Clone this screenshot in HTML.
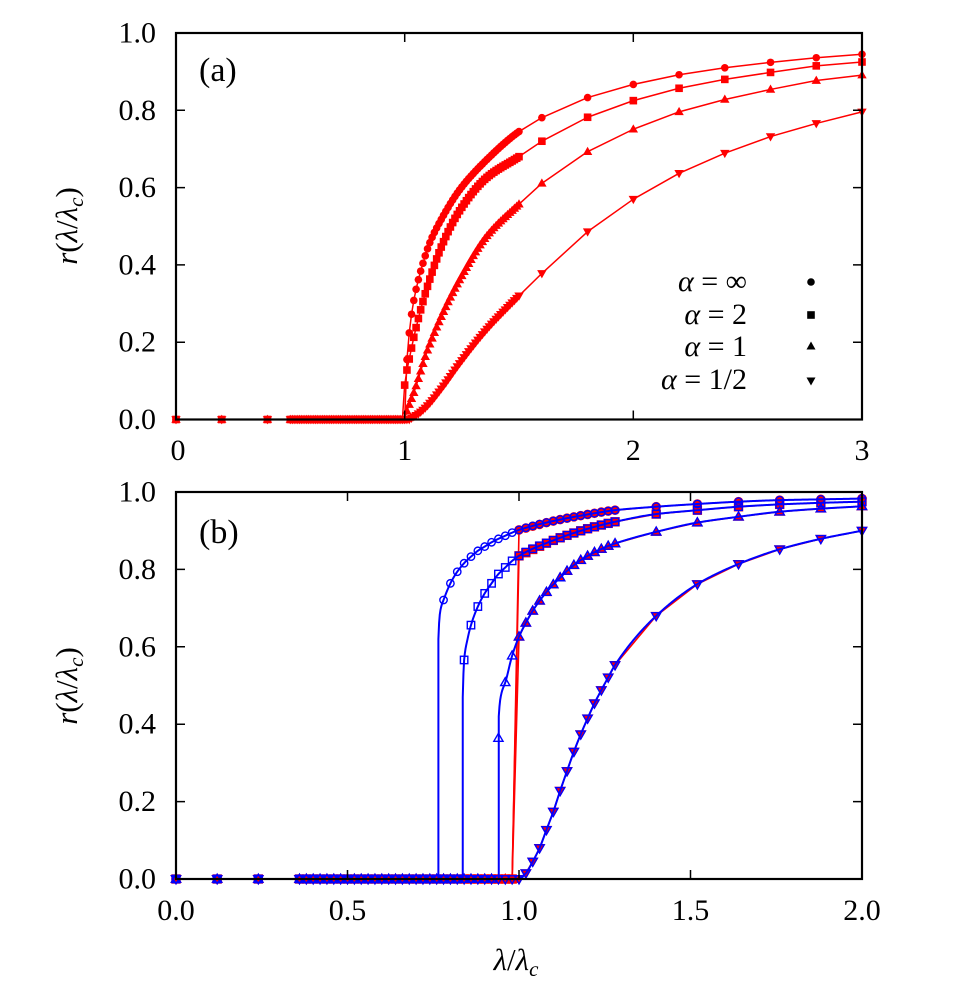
<!DOCTYPE html>
<html><head><meta charset="utf-8">
<style>
html,body{margin:0;padding:0;background:#fff;}
svg{display:block;}
svg text{font-family:"Liberation Serif","DejaVu Serif",serif;fill:#000;}
</style></head>
<body>
<svg width="978" height="998" viewBox="0 0 978 998" xmlns="http://www.w3.org/2000/svg" font-family="'Liberation Serif', 'DejaVu Serif', serif">
<rect width="978" height="998" fill="#fff"/>
<g id="data"></g>
<g fill="none" stroke="#000" stroke-width="1.5">
  <rect x="176" y="33" width="686" height="386.5" stroke-width="2.2"/>
  <path d="M404.7 419.5V410.5M633.3 419.5V410.5M404.7 33V42M633.3 33V42
           M176 342.2H185M176 264.9H185M176 187.6H185M176 110.3H185
           M862 342.2H853M862 264.9H853M862 187.6H853M862 110.3H853"/>
  <rect x="176" y="492" width="686" height="387" stroke-width="2.2"/>
  <path d="M347.5 879V870M519 879V870M690.5 879V870M347.5 492V501M519 492V501M690.5 492V501
           M176 801.6H185M176 724.2H185M176 646.8H185M176 569.4H185
           M862 801.6H853M862 724.2H853M862 646.8H853M862 569.4H853"/>
</g>
<g font-size="30" text-anchor="end" font-family="'Liberation Serif', serif">
  <text x="156" y="429">0.0</text>
  <text x="156" y="351.7">0.2</text>
  <text x="156" y="274.4">0.4</text>
  <text x="156" y="197.1">0.6</text>
  <text x="156" y="119.8">0.8</text>
  <text x="156" y="42.5">1.0</text>
</g>
<g font-size="30" text-anchor="middle" font-family="'Liberation Serif', serif">
  <text x="178" y="460">0</text>
  <text x="404.7" y="460">1</text>
  <text x="633.3" y="460">2</text>
  <text x="862" y="460">3</text>
</g>
<g font-size="30" text-anchor="end" font-family="'Liberation Serif', serif">
  <text x="156" y="888.5">0.0</text>
  <text x="156" y="811.1">0.2</text>
  <text x="156" y="733.7">0.4</text>
  <text x="156" y="656.3">0.6</text>
  <text x="156" y="578.9">0.8</text>
  <text x="156" y="501.5">1.0</text>
</g>
<g font-size="30" text-anchor="middle" font-family="'Liberation Serif', serif">
  <text x="176" y="920">0.0</text>
  <text x="347.5" y="920">0.5</text>
  <text x="519" y="920">1.0</text>
  <text x="690.5" y="920">1.5</text>
  <text x="862" y="920">2.0</text>
</g>
<g font-family="'Liberation Serif', serif">
<text transform="translate(77,226) rotate(-90)" font-size="31" text-anchor="middle"><tspan font-style="italic">r</tspan>(<tspan font-style="italic">λ</tspan>/<tspan font-style="italic">λ</tspan><tspan font-style="italic" font-size="21" dy="6">c</tspan><tspan dy="-6">)</tspan></text>
<text transform="translate(77,686) rotate(-90)" font-size="31" text-anchor="middle"><tspan font-style="italic">r</tspan>(<tspan font-style="italic">λ</tspan>/<tspan font-style="italic">λ</tspan><tspan font-style="italic" font-size="21" dy="6">c</tspan><tspan dy="-6">)</tspan></text>
<text x="516" y="970" font-size="31" text-anchor="middle"><tspan font-style="italic">λ</tspan>/<tspan font-style="italic">λ</tspan><tspan font-style="italic" font-size="21" dy="6">c</tspan></text>
<text x="199" y="81" font-size="34">(a)</text>
<text x="199" y="543" font-size="34">(b)</text>
</g>
<g font-size="30" text-anchor="end" font-family="'Liberation Serif', serif">
  <text x="747" y="291"><tspan font-style="italic">α</tspan> = ∞</text>
  <text x="747" y="324"><tspan font-style="italic">α</tspan> = 2</text>
  <text x="747" y="356"><tspan font-style="italic">α</tspan> = 1</text>
  <text x="747" y="389"><tspan font-style="italic">α</tspan> = 1/2</text>
</g>
<g fill="#000">
  <circle cx="811" cy="282" r="3.8"/>
  <rect x="807.2" y="311.2" width="7.6" height="7.6"/>
  <polygon points="811,341.5 806.5,349.5 815.5,349.5"/>
  <polygon points="811,385.5 806.5,377.5 815.5,377.5"/>
</g>
</svg>
<script>
(function(){
function mono(pts){
  var n=pts.length,xs=pts.map(function(p){return p[0];}),ys=pts.map(function(p){return p[1];});
  var d=[],m=new Array(n),i;
  for(i=0;i<n-1;i++) d.push((ys[i+1]-ys[i])/(xs[i+1]-xs[i]));
  m[0]=d[0]; m[n-1]=d[n-2];
  for(i=1;i<n-1;i++){
    if(d[i-1]*d[i]<=0) m[i]=0;
    else{var h0=xs[i]-xs[i-1],h1=xs[i+1]-xs[i];var w1=2*h1+h0,w2=h1+2*h0;m[i]=(w1+w2)/(w1/d[i-1]+w2/d[i]);}
  }
  return function(x){
    if(x<=xs[0]) return ys[0];
    if(x>=xs[n-1]) return ys[n-1];
    var k=0; while(x>xs[k+1]) k++;
    var h=xs[k+1]-xs[k],t=(x-xs[k])/h,t2=t*t,t3=t2*t;
    return (2*t3-3*t2+1)*ys[k]+(t3-2*t2+t)*h*m[k]+(-2*t3+3*t2)*ys[k+1]+(t3-t2)*h*m[k+1];
  };
}
var A={x0:176,x1:862,hx:3,y0:419.5,y1:33};
var B={x0:176,x1:862,hx:2,y0:879,y1:492};
function px(P,l){return P.x0+l/P.hx*(P.x1-P.x0);}
function py(P,r){return P.y0+(P.y1-P.y0)*r;}
var out=[];
function f2(v){return v.toFixed(2);}
function marker(t,x,y,s,fill,stroke,sw){
  var st=' fill="'+fill+'"'+(stroke?' stroke="'+stroke+'" stroke-width="'+sw+'"':'');
  if(t==='c') out.push('<circle cx="'+f2(x)+'" cy="'+f2(y)+'" r="'+s.r+'"'+st+'/>');
  else if(t==='s') out.push('<rect x="'+f2(x-s.q/2)+'" y="'+f2(y-s.q/2)+'" width="'+s.q+'" height="'+s.q+'"'+st+'/>');
  else if(t==='u') out.push('<polygon points="'+f2(x)+','+f2(y-s.h*0.6)+' '+f2(x-s.w)+','+f2(y+s.h*0.4)+' '+f2(x+s.w)+','+f2(y+s.h*0.4)+'"'+st+'/>');
  else out.push('<polygon points="'+f2(x)+','+f2(y+s.h*0.6)+' '+f2(x-s.w)+','+f2(y-s.h*0.4)+' '+f2(x+s.w)+','+f2(y-s.h*0.4)+'"'+st+'/>');
}
function poly(pts,color,w){
  out.push('<polyline fill="none" stroke="'+color+'" stroke-width="'+w+'" stroke-linejoin="round" points="'+pts.map(function(p){return f2(p[0])+','+f2(p[1]);}).join(' ')+'"/>');
}
var La=[0,0.2,0.4],k;
for(k=50;k<=150;k++) La.push(k/100);
for(k=8;k<=15;k++) La.push(k/5);
var serA=[
 {t:'c',s:1.0,c:[[1.0,0],[1.0025,0.08],[1.01,0.155],[1.022,0.235],[1.036,0.295],[1.058,0.357],[1.08,0.404],[1.109,0.456],[1.167,0.525],[1.24,0.594],[1.357,0.671],[1.5,0.745],[1.6,0.781],[1.8,0.833],[2.0,0.867],[2.2,0.892],[2.4,0.910],[2.6,0.924],[2.8,0.936],[3.0,0.945]]},
 {t:'s',s:0.995,c:[[0.995,0],[1.0,0.089],[1.01,0.128],[1.022,0.162],[1.044,0.223],[1.095,0.335],[1.167,0.456],[1.24,0.54],[1.357,0.625],[1.5,0.68],[1.6,0.72],[1.8,0.782],[2.0,0.825],[2.2,0.857],[2.4,0.88],[2.6,0.898],[2.8,0.915],[3.0,0.925]]},
 {t:'u',s:1.0,c:[[1.0,0],[1.007,0.016],[1.044,0.076],[1.095,0.171],[1.167,0.275],[1.24,0.361],[1.357,0.473],[1.5,0.557],[1.6,0.611],[1.8,0.693],[2.0,0.751],[2.2,0.796],[2.4,0.828],[2.6,0.854],[2.8,0.877],[3.0,0.891]]},
 {t:'d',s:1.02,c:[[1.02,0],[1.036,0.006],[1.06,0.015],[1.095,0.033],[1.167,0.085],[1.24,0.145],[1.357,0.232],[1.5,0.32],[1.6,0.378],[1.8,0.486],[2.0,0.570],[2.2,0.637],[2.4,0.689],[2.6,0.732],[2.8,0.766],[3.0,0.796]]}
];
var sA={r:3.8,q:7.6,w:4.7,h:8.2};
serA.forEach(function(S){
  var f=mono(S.c),pts=[];
  La.forEach(function(l){var r=(l<S.s-1e-9)?0:f(l);pts.push([px(A,l),py(A,r)]);});
  poly(pts,'#ff0000',1.5);
  pts.forEach(function(p){marker(S.t,p[0],p[1],sA,'#ff0000');});
});
var Lb=[0,0.12,0.24];
for(k=18;k<=64;k++) Lb.push(Math.round(k*2)/100);
[1.4,1.52,1.64,1.76,1.88,2.0].forEach(function(v){Lb.push(v);});
var circT=[[1.0,0.902],[1.1,0.925],[1.2,0.942],[1.28,0.953],[1.4,0.962],[1.52,0.969],[1.64,0.975],[1.76,0.979],[1.88,0.981],[2.0,0.983]];
var sqT=[[1.0,0.835],[1.1,0.875],[1.2,0.905],[1.28,0.923],[1.4,0.943],[1.52,0.953],[1.64,0.962],[1.76,0.968],[1.88,0.972],[2.0,0.975]];
var upT=[[1.0,0.626],[1.02,0.662],[1.04,0.693],[1.06,0.719],[1.1,0.761],[1.18,0.824],[1.256,0.859],[1.28,0.867],[1.4,0.897],[1.52,0.921],[1.64,0.936],[1.76,0.949],[1.88,0.957],[2.0,0.963]];
var dnT=[[1.0,0],[1.02,0.015],[1.04,0.045],[1.06,0.08],[1.08,0.127],[1.1,0.174],[1.12,0.228],[1.14,0.279],[1.16,0.329],[1.18,0.374],[1.2,0.415],[1.22,0.454],[1.24,0.488],[1.26,0.521],[1.28,0.553],[1.4,0.68],[1.52,0.762],[1.64,0.814],[1.76,0.852],[1.88,0.879],[2.0,0.90]];
var red=[{t:'c',c:circT},{t:'s',c:sqT},{t:'u',c:upT},{t:'d',c:dnT}];
var sR={r:4.8,q:9.4,w:5.8,h:10};
red.forEach(function(S){
  var f=mono(S.c),pts=[];
  Lb.forEach(function(l){var r=(l<0.999)?0:f(l);pts.push([px(B,l),py(B,r)]);});
  poly(pts,'#ff0000',1.6);
  pts.forEach(function(p){marker(S.t,p[0],p[1],sR,'#ff0000');});
});
var blue=[
 {t:'c',v:0.765,rv:0.62,c:[[0.765,0.62],[0.768,0.675],[0.773,0.703],[0.78,0.721],[0.80,0.764],[0.82,0.794],[0.84,0.816],[0.86,0.833],[0.88,0.848],[0.90,0.859],[0.92,0.87],[0.94,0.879],[0.96,0.887],[0.98,0.895]].concat(circT)},
 {t:'s',v:0.836,rv:0.47,c:[[0.836,0.47],[0.838,0.53],[0.84,0.566],[0.85,0.62],[0.86,0.656],[0.88,0.704],[0.90,0.738],[0.92,0.764],[0.94,0.788],[0.96,0.805],[0.98,0.822]].concat(sqT)},
 {t:'u',v:0.941,rv:0.42,c:[[0.941,0.42],[0.944,0.455],[0.95,0.484],[0.96,0.508],[0.98,0.577]].concat(upT),ov:{'0.94':0.364}},
 {t:'d',v:1.0,rv:0,c:dnT}
];
var sB={r:3.7,q:7.4,w:4.6,h:8};
blue.forEach(function(S){
  var f=mono(S.c),pts=[[px(B,0),py(B,0)],[px(B,S.v),py(B,0)]];
  if(S.rv>0) pts.push([px(B,S.v),py(B,S.rv)]);
  for(var l=S.v;l<=2.0001;l+=0.002) pts.push([px(B,l),py(B,f(l))]);
  poly(pts,'#0000ff',2);
  Lb.forEach(function(l){
    var key=l.toFixed(2),r;
    if(S.ov && S.ov[key]!==undefined) r=S.ov[key];
    else r=(l<S.v-1e-9)?0:f(l);
    marker(S.t,px(B,l),py(B,r),sB,'none','#0000ff',1.4);
  });
});
document.getElementById('data').innerHTML=out.join('');
})();
</script>
</body></html>
